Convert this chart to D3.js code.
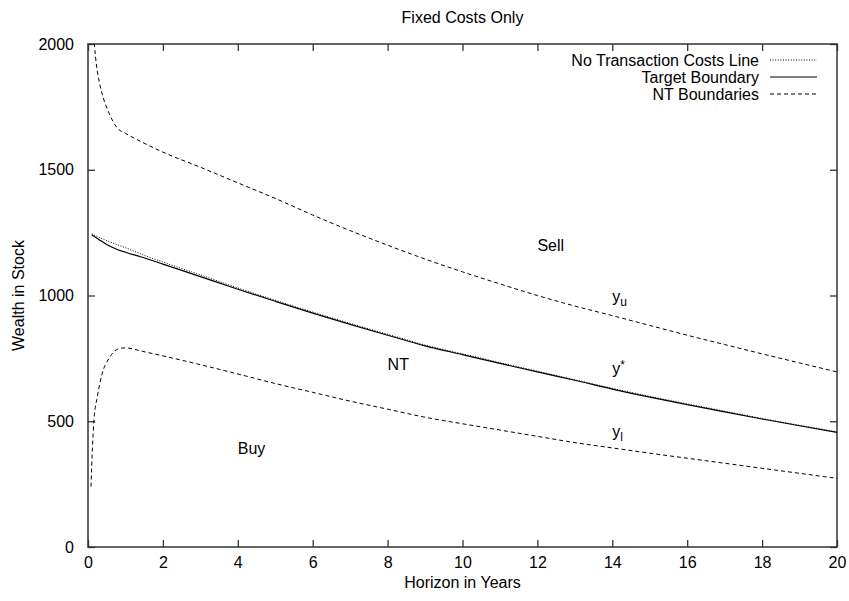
<!DOCTYPE html>
<html>
<head>
<meta charset="utf-8">
<script src="https://cdn.jsdelivr.net/npm/d3@7"></script>
<style>
  body { margin: 0; background: #fff; }
  text { font-family: "Liberation Sans", Arial, sans-serif; fill: #000; }
</style>
</head>
<body>
<svg id="chart" width="849" height="601"></svg>
<script>
// horizon in years, wealth in stock
const noCostT = [0.1, 0.5, 1, 1.5, 2, 3, 4, 5, 6, 7, 8, 9, 10, 11, 12, 13, 14, 15, 16, 17, 18, 19, 20]
const noCostV = [1245, 1218, 1190, 1160, 1133, 1082, 1030, 981, 934, 889, 846, 803, 768, 733, 699, 665, 631, 599, 569, 540, 511, 484, 458]

const targetT = [0.1, 0.3, 0.5, 0.75, 1, 1.4, 2, 3, 4, 5, 6, 7, 8, 9, 10, 11, 12, 13, 14, 15, 16, 17, 18, 19, 20]
const targetV = [1242, 1222, 1203, 1185, 1172, 1154, 1125, 1075, 1025, 977, 930, 885, 842, 800, 765, 730, 696, 663, 628, 596, 566, 537, 509, 482, 456]

const upperT = [0.14, 0.2, 0.3, 0.4, 0.56, 0.78, 1, 1.44, 2, 3, 4, 5, 6, 7, 8, 9, 10, 11, 12, 13, 14, 15, 16, 17, 18, 19, 20]
const upperV = [2060, 1950, 1850, 1790, 1726, 1666, 1645, 1610, 1570, 1510, 1448, 1386, 1320, 1258, 1200, 1145, 1094, 1046, 1000, 958, 920, 881, 842, 805, 768, 732, 696]

const lowerT = [0.08, 0.12, 0.16, 0.25, 0.38, 0.56, 0.8, 1, 1.45, 2, 3, 4, 5, 6, 7, 8, 9, 10, 11, 12, 13, 14, 15, 16, 17, 18, 19, 20]
const lowerV = [240, 400, 505, 598, 690, 750, 787, 792, 778, 760, 725, 688, 650, 615, 580, 548, 516, 490, 465, 440, 415, 394, 373, 353, 333, 313, 293, 273]

const xTicks = [0, 2, 4, 6, 8, 10, 12, 14, 16, 18, 20]
const yTicks = [0, 500, 1000, 1500, 2000]

const legendNames = ["No Transaction Costs Line", "Target Boundary", "NT Boundaries"]
const legendDash = ["1,1.6", null, "4,3"]

const regionLabels = [
    { t: 12, v: 1200, text: "Sell" },
    { t: 8, v: 728, text: "NT" },
    { t: 4, v: 394, text: "Buy" }
]
const curveLabels = [
    { t: 14, v: 985, sub: "u" },
    { t: 14, v: 700, sup: "*" },
    { t: 14, v: 450, sub: "l" }
]

const margin = { left: 88, right: 12, top: 44, bottom: 54 }
const width = 849, height = 601
const fontSize = "16px"
const svg = d3.select("#chart")

const x = d3.scaleLinear().domain([0, 20]).range([margin.left, width - margin.right])
const y = d3.scaleLinear().domain([0, 2000]).range([height - margin.bottom, margin.top])

svg.append("clipPath").attr("id", "plotclip")
    .append("rect")
    .attr("x", x(0)).attr("y", y(2000))
    .attr("width", x(20) - x(0)).attr("height", y(0) - y(2000))

// axes with inward ticks on all four sides
const tickLen = 7
const axes = svg.append("g").attr("class", "axes")
axes.append("g")
    .attr("transform", `translate(0,${y(0)})`)
    .call(d3.axisBottom(x).tickValues(xTicks).tickSizeInner(-tickLen).tickSizeOuter(0).tickPadding(10))
axes.append("g")
    .attr("transform", `translate(0,${y(2000)})`)
    .call(d3.axisTop(x).tickValues(xTicks).tickSizeInner(-tickLen).tickSizeOuter(0).tickFormat(""))
axes.append("g")
    .attr("transform", `translate(${x(0)},0)`)
    .call(d3.axisLeft(y).tickValues(yTicks).tickFormat(d3.format("d")).tickSizeInner(-tickLen).tickSizeOuter(0).tickPadding(14))
axes.append("g")
    .attr("transform", `translate(${x(20)},0)`)
    .call(d3.axisRight(y).tickValues(yTicks).tickSizeInner(-tickLen).tickSizeOuter(0).tickFormat(""))
axes.selectAll(".domain").remove()
axes.selectAll(".tick line").attr("stroke", "#333").attr("stroke-width", 1.3)
axes.selectAll(".tick text")
    .style("font-family", '"Liberation Sans", Arial, sans-serif')
    .style("font-size", fontSize)
    .attr("fill", "#000")

svg.append("rect")
    .attr("x", x(0)).attr("y", y(2000))
    .attr("width", x(20) - x(0)).attr("height", y(0) - y(2000))
    .attr("fill", "none").attr("stroke", "#333").attr("stroke-width", 1.5)

// curves
const line = d3.line()
    .x(d => x(d[0]))
    .y(d => y(d[1]))
    .curve(d3.curveMonotoneX)

const series = [
    { t: noCostT, v: noCostV, dash: legendDash[0], w: 1 },
    { t: targetT, v: targetV, dash: legendDash[1], w: 1.2 },
    { t: upperT, v: upperV, dash: legendDash[2], w: 1 },
    { t: lowerT, v: lowerV, dash: legendDash[2], w: 1 }
]
svg.append("g").attr("clip-path", "url(#plotclip)")
    .selectAll("path")
    .data(series)
    .enter()
    .append("path")
    .attr("d", s => line(d3.zip(s.t, s.v)))
    .attr("fill", "none")
    .attr("stroke", "#000")
    .attr("stroke-width", s => s.w)
    .attr("stroke-dasharray", s => s.dash)

// region labels
svg.append("g")
    .selectAll("text")
    .data(regionLabels)
    .enter()
    .append("text")
    .attr("x", d => x(d.t))
    .attr("y", d => y(d.v))
    .attr("dy", "0.35em")
    .style("font-size", fontSize)
    .text(d => d.text)

const cl = svg.append("g")
    .selectAll("text")
    .data(curveLabels)
    .enter()
    .append("text")
    .attr("x", d => x(d.t))
    .attr("y", d => y(d.v))
    .attr("dy", "0.2em")
    .style("font-size", fontSize)
cl.append("tspan").text("y")
cl.filter(d => d.sub).append("tspan")
    .attr("dy", "4").style("font-size", "12px").text(d => d.sub)
cl.filter(d => d.sup).append("tspan")
    .attr("dy", "-5").style("font-size", "12px").text(d => d.sup)

// legend
const legend = svg.append("g")
    .selectAll("g")
    .data(legendNames)
    .enter()
    .append("g")
    .attr("transform", (d, i) => `translate(0,${60 + i * 17})`)
legend.append("text")
    .attr("x", 759)
    .attr("dy", "0.35em")
    .attr("text-anchor", "end")
    .style("font-size", fontSize)
    .text(d => d)
legend.append("line")
    .attr("x1", 770).attr("x2", 817)
    .attr("stroke", "#000")
    .attr("stroke-width", (d, i) => i === 1 ? 1.2 : 1)
    .attr("stroke-dasharray", (d, i) => legendDash[i])

// titles
svg.append("text")
    .attr("x", (x(0) + x(20)) / 2).attr("y", 17)
    .attr("dy", "0.35em")
    .attr("text-anchor", "middle")
    .style("font-size", fontSize)
    .text("Fixed Costs Only")
svg.append("text")
    .attr("x", (x(0) + x(20)) / 2).attr("y", 588)
    .attr("text-anchor", "middle")
    .style("font-size", fontSize)
    .text("Horizon in Years")
svg.append("text")
    .attr("transform", `translate(18,${(y(0) + y(2000)) / 2}) rotate(-90)`)
    .attr("dy", "0.35em")
    .attr("text-anchor", "middle")
    .style("font-size", fontSize)
    .text("Wealth in Stock")
</script>
</body>
</html>
